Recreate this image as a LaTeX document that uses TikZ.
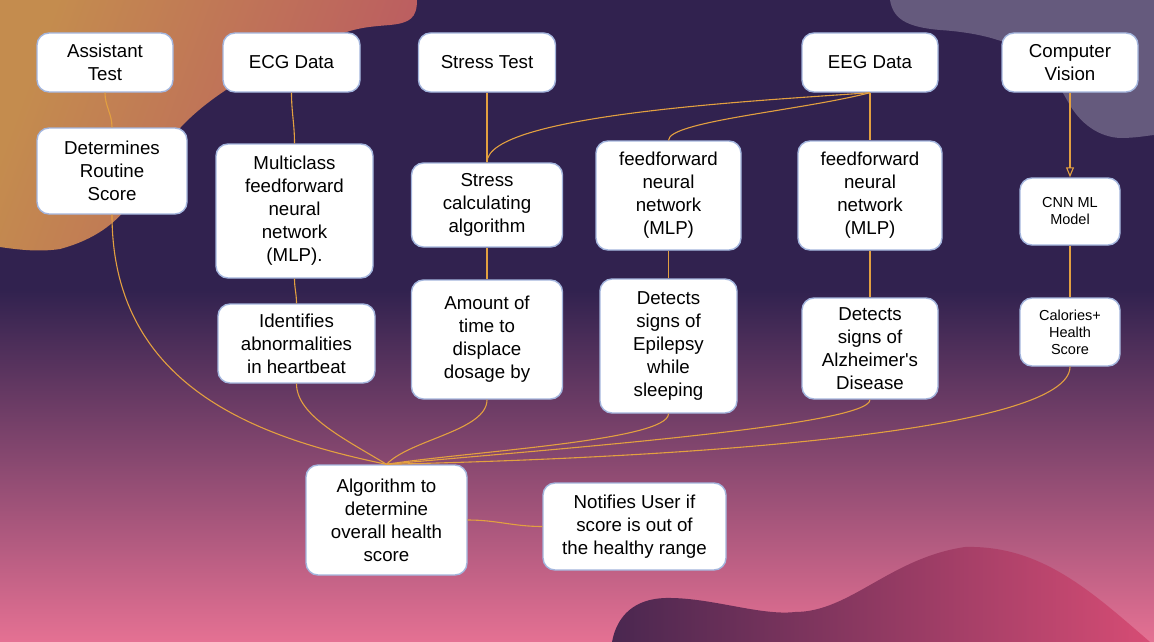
\documentclass[tikz,border=0pt]{standalone}
\usepackage{fontspec}
\setmainfont{Liberation Sans}
\usetikzlibrary{arrows.meta}
\definecolor{bgdark}{HTML}{31224F}
\definecolor{bgpink}{HTML}{E57193}
\definecolor{blobgrey}{HTML}{655A7D}
\definecolor{blobgold}{HTML}{C48C4E}
\definecolor{blobrust}{HTML}{BB5A62}
\definecolor{blobL}{HTML}{4A2750}
\definecolor{blobR}{HTML}{D64C74}
\definecolor{edgeor}{HTML}{E3A040}
\definecolor{boxline}{HTML}{A3B5DD}
\newcommand\mainsz{\fontsize{18.7}{23}\selectfont}
\newcommand\smallsz{\fontsize{14.5}{17}\selectfont}
\newcommand\straightquote{\XeTeXglyph\XeTeXcharglyph"0027\relax}
\begin{document}
\begin{tikzpicture}[x=1pt,y=-1pt,
  box/.style={draw=boxline, line width=1.4pt, fill=white, rounded corners=12pt,
              inner sep=0pt, align=center, font=\mainsz, text=black},
  smallbox/.style={box, font=\smallsz},
  wh/.style 2 args={minimum width=#1pt, minimum height=#2pt},
  conn/.style={draw=edgeor, line width=1.1pt},
]
\useasboundingbox (0,0) rectangle (1154,642);
% background
\fill[bgdark] (0,0) rectangle (1154,642);
\shade[top color=bgdark, bottom color=bgpink] (0,290) rectangle (1154,642);
% top-left blob
\shade[top color=blobgold, bottom color=blobrust, shading angle=70]
  (0,0) -- (417,0) .. controls (417,18) and (410,23) .. (390,25)
  .. controls (365,27) and (355,28) .. (330,38)
  .. controls (260,65) and (200,100) .. (170,140)
  .. controls (140,185) and (130,230) .. (60,249)
  .. controls (40,252) and (20,250) .. (0,247) -- cycle;
% top-right blob
\fill[blobgrey]
  (890,0) .. controls (893,18) and (905,27) .. (940,30)
  .. controls (1030,36) and (1050,70) .. (1067,100)
  .. controls (1080,125) and (1100,137) .. (1120,138)
  .. controls (1135,138) and (1145,136) .. (1154,135) -- (1154,0) -- cycle;
% bottom-right blob
\shade[left color=blobL, right color=blobR]
  (612,642) .. controls (617,615) and (635,599) .. (665,598)
  .. controls (710,597) and (760,616) .. (795,612)
  .. controls (850,612) and (890,558) .. (965,547)
  .. controls (1040,545) and (1090,590) .. (1150,642) -- cycle;

% nodes
\node[box, wh={136}{59}] (assist) at (105,62.5) {Assistant\\Test};
\node[box, wh={137}{59}] (ecg) at (291.5,62.5) {ECG Data};
\node[box, wh={137}{59}] (stress) at (487,62.5) {Stress Test};
\node[box, wh={136}{59}] (eeg) at (870,62.5) {EEG Data};
\node[box, wh={136}{59}] (cv) at (1070,62.5) {Computer\\Vision};

\node[box, wh={150}{86}] (routine) at (112,171) {Determines\\Routine\\Score};
\node[box, wh={157}{134}] (mlp0) at (294.5,211) {Multiclass\\feedforward\\neural\\network\\(MLP).};
\node[box, wh={151}{84}] (scalc) at (487,205) {Stress\\calculating\\algorithm};
\node[box, wh={145}{109}] (mlp1) at (668.5,195.5) {feedforward\\neural\\network\\(MLP)};
\node[box, wh={144}{109}] (mlp2) at (870,195.5) {feedforward\\neural\\network\\(MLP)};
\node[smallbox, wh={100}{67}] (cnn) at (1070,211.5) {CNN ML\\Model};

\node[box, wh={157}{79}] (abnorm) at (296.5,343.5) {Identifies\\abnormalities\\in heartbeat};
\node[box, wh={151}{119}] (amount) at (487,339.5) {Amount of\\time to\\displace\\dosage by};
\node[box, wh={137}{134}] (epil) at (668.5,346) {Detects\\signs of\\Epilepsy\\while\\sleeping};
\node[box, wh={136}{101}] (alz) at (870,348.5) {Detects\\signs of\\Alzheimer\straightquote s\\Disease};
\node[smallbox, wh={100}{68}] (cal) at (1070,332) {Calories+\\Health\\Score};

\node[box, wh={161}{110}] (algo) at (386.5,520) {Algorithm to\\determine\\overall health\\score};
\node[box, wh={183}{87}] (notify) at (634.5,526.5) {Notifies User if\\score is out of\\the healthy range};

% connectors
\draw[conn] (assist.south) to[out=-90,in=90] (routine.north);
\draw[conn] (ecg.south) to[out=-90,in=90] (mlp0.north);
\draw[conn] (stress.south) -- (scalc.north);
\draw[conn] (eeg.south) -- (mlp2.north);
\draw[conn] (eeg.south) .. controls +(-70,18) and +(0,-19) .. (mlp1.north);
\draw[conn] (eeg.south) .. controls +(-110,8) and +(0,-48) .. (scalc.north);
\draw[conn, -{Triangle[open,length=10pt,width=8pt]}] (cv.south) -- (cnn.north);
\draw[conn] (cnn.south) -- (cal.north);

\draw[conn] (mlp0.south) to[out=-90,in=90] (abnorm.north);
\draw[conn] (scalc.south) -- (amount.north);
\draw[conn] (mlp1.south) -- (epil.north);
\draw[conn] (mlp2.south) -- (alz.north);

\draw[conn] (routine.south) .. controls +(0,171) and +(-131,-27) .. (algo.north);
\draw[conn] (abnorm.south) .. controls +(0,32) and +(-41,-25) .. (algo.north);
\draw[conn] (amount.south) .. controls +(0,31) and +(24,-25) .. (algo.north);
\draw[conn] (epil.south) .. controls +(0,27) and +(84,-13) .. (algo.north);
\draw[conn] (alz.south) .. controls +(0,26) and +(164,-15) .. (algo.north);
\draw[conn] (cal.south) .. controls +(0,64) and +(314,-7) .. (algo.north);

\draw[conn] (algo.east) to[out=0,in=180] (notify.west);
\end{tikzpicture}
\end{document}
